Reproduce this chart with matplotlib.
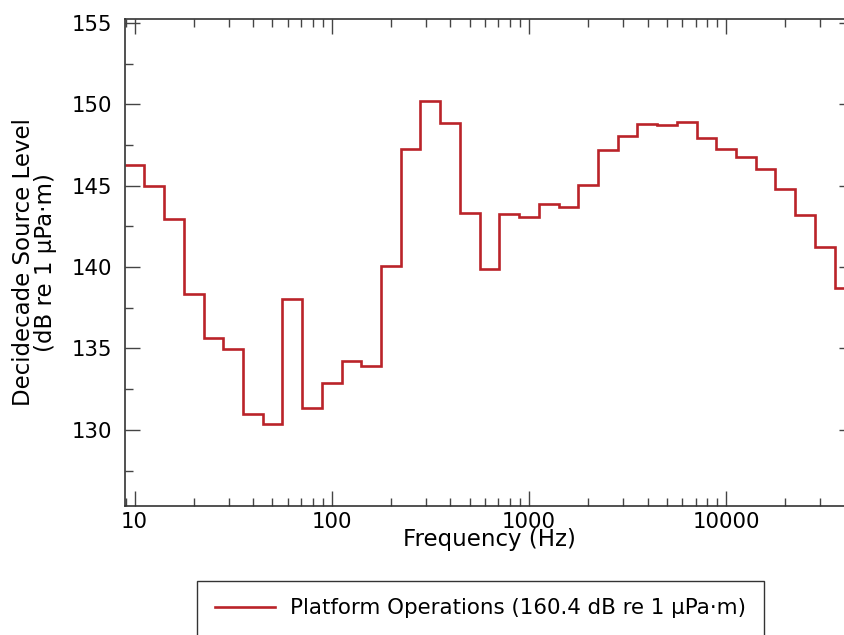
import numpy as np
import matplotlib
matplotlib.use("Agg")
from matplotlib import pyplot as plt
from matplotlib.ticker import LogLocator, MultipleLocator, FuncFormatter, NullFormatter

# decidecade band centres (nominal, Hz) and band levels
band_hz = [10, 12.5, 16, 20, 25, 31.5, 40, 50, 63, 80,
           100, 125, 160, 200, 250, 315, 400, 500, 630, 800,
           1000, 1250, 1600, 2000, 2500, 3150, 4000, 5000, 6300, 8000,
           10000, 12500, 16000, 20000, 25000, 31500, 40000]
level_db = [146.27, 145.0, 142.95, 138.37, 135.67, 134.94, 130.99, 130.35, 138.07, 131.37,
            132.85, 134.25, 133.94, 140.07, 147.26, 150.23, 148.84, 143.3, 139.91, 143.24,
            143.09, 143.89, 143.71, 145.02, 147.18, 148.06, 148.8, 148.74, 148.92, 147.92,
            147.24, 146.79, 146.03, 144.8, 143.2, 141.21, 138.72]
label = "Platform Operations (160.4 dB re 1 µPa·m)"

# exact decidecade band edges
n0 = np.round(10 * np.log10(band_hz[0]))
edges = 10 ** ((n0 + np.arange(len(band_hz) + 1) - 0.5) / 10)

plt.rcParams['font.family'] = ['DejaVu Sans']

fig = plt.figure(figsize=(8.45, 6.35), dpi=100)
W, H = 845, 635
ax = fig.add_axes([124.7 / W, 1 - 505.5 / H, 729.6 / W, (505.5 - 19.3) / H])

ax.stairs(level_db, edges, baseline=None, color='#BA2329', lw=1.9, label=label)

ax.set_xscale('log')
ax.set_xlim(edges[0], edges[-1])
ax.set_ylim(min(level_db) - 5, max(level_db) + 5)

ax.xaxis.set_major_locator(LogLocator(base=10))
ax.xaxis.set_minor_locator(LogLocator(base=10, subs=np.arange(2, 10)))
ax.xaxis.set_major_formatter(FuncFormatter(lambda v, p: f"{v:g}"))
ax.xaxis.set_minor_formatter(NullFormatter())
ax.yaxis.set_major_locator(MultipleLocator(5))
ax.yaxis.set_minor_locator(MultipleLocator(2.5))

ax.tick_params(which='both', direction='in', top=True, right=True, color='#444444', width=1.0)
ax.tick_params(which='major', length=10.5)
ax.tick_params(which='minor', length=6)
ax.tick_params(axis='x', which='major', pad=5, labelsize=15.3)
ax.tick_params(axis='y', which='major', pad=8.8, labelsize=15.3)

for s in ax.spines.values():
    s.set_color('#333333')
    s.set_linewidth(1.2)

ax.set_xlabel('Frequency (Hz)', labelpad=-3, fontsize=16.5)
ax.set_ylabel('Decidecade Source Level\n(dB re 1 µPa·m)', labelpad=10.5, linespacing=0.95,
              fontsize=16.5)

leg = fig.legend(loc='upper center', bbox_to_anchor=(480.5 / W, 1 - 580.7 / H),
                 borderaxespad=0, frameon=True, fancybox=False, framealpha=1,
                 edgecolor='#333333', handlelength=2.78, handletextpad=0.72,
                 borderpad=0.83, fontsize=15.4)
leg.get_frame().set_linewidth(1.0)

fig.savefig('out.png', dpi=100)
